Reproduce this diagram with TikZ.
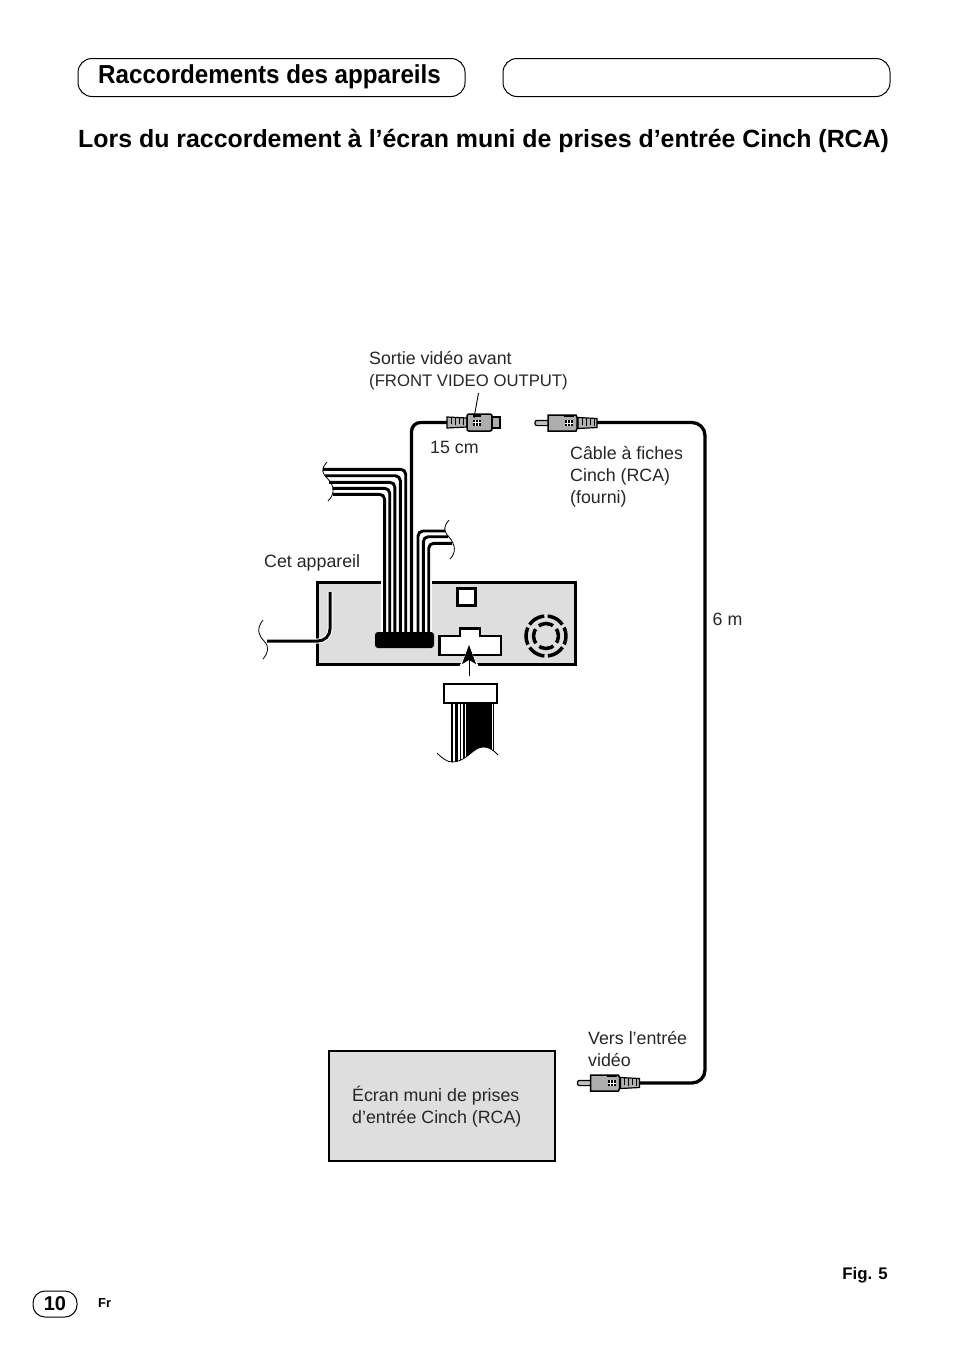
\documentclass[tikz,border=0pt]{standalone}
\usepackage{fontspec}
\setmainfont{Liberation Sans}
\newfontfamily\headfont[FakeStretch=.93]{Liberation Sans}
\usetikzlibrary{positioning,arrows.meta}
\tikzset{
  pillbox/.style={draw,line width=1pt,rounded corners=14pt,minimum height=38pt,inner sep=0pt},
  caption/.style={anchor=west,align=left,inner sep=0pt,font=\fontsize{17.8}{22}\selectfont,text=black!85},
  heading/.style={anchor=west,inner sep=0pt,font=\bfseries},
  graybox/.style={draw,line width=3pt,fill=black!13,inner sep=0pt},
  whitebox/.style={draw,line width=2.5pt,fill=white,inner sep=0pt},
  wire/.style={line width=2.9pt,rounded corners=5pt},
  cable/.style={line width=3.3pt,rounded corners=13pt},
  breakline/.style={line width=.8pt},
  pics/rcaplug/.style={code={
    \draw[line width=1.2pt,fill=black!25,rounded corners=2pt] (0,-2.6) rectangle (14,2.6);
    \draw[line width=1.5pt,fill=black!32] (13,-8) -- (41,-8) -- (42,-5.5) -- (42,5.5) -- (41,8) -- (13,8) -- cycle;
    \fill[black] (29,-8) rectangle (39,-6);
    \draw[line width=1.2pt,fill=black!30] (43,-5.5) -- (62,-4.5) -- (62,4.5) -- (43,5.5) -- cycle;
    \draw[line width=.9pt] (47,-5) -- (47,1.5) (51,-5) -- (51,2.5) (55,-5) -- (55,1.5) (59,-4.5) -- (59,2.5);
    \fill[black] (30,-3) rectangle (38,3);
    \draw[white,line width=.5pt] (32.6,-3) -- (32.6,3) (35.3,-3) -- (35.3,3) (30,0) -- (38,0);
  }},
  pics/svidplug/.style={code={
    \draw[line width=1.2pt,fill=black!30] (0,-5.5) -- (20,-4.5) -- (20,4.5) -- (0,5.5) -- cycle;
    \draw[line width=.9pt] (4,-5) -- (4,1.5) (8,-5) -- (8,2.5) (12,-5) -- (12,1.5) (16,-4.5) -- (16,2.5);
    \draw[line width=1.5pt,fill=black!32,rounded corners=2pt] (20,-8.5) rectangle (45,8.5);
    \draw[line width=1.2pt,fill=black!32] (45,-5.5) rectangle (53,5.5);
    \fill[black] (26,-3) rectangle (34,3);
    \fill[black] (26,-8.5) rectangle (34,-6);
    \draw[white,line width=.5pt] (28.6,-3) -- (28.6,3) (31.3,-3) -- (31.3,3) (26,0) -- (34,0);
  }},
}
\begin{document}
\begin{tikzpicture}[x=1pt,y=-1pt]
\useasboundingbox (0,0) rectangle (954,1355);

\node    (tabL)    at (271.5,77.5)    [pillbox,minimum width=387pt]    {};
\node    (tabR)    at (696.5,77.5)    [pillbox,minimum width=387pt]    {};
\node    (title)   at (98,77)         [heading,font=\headfont\bfseries\fontsize{26}{30}\selectfont]    {Raccordements des appareils};
\node    (sub)     at (78,140.5)      [heading,font=\bfseries\fontsize{24.9}{28}\selectfont]  {Lors du raccordement à l’écran muni de prises d’entrée Cinch (RCA)};

\node    (lblOut)  at (369,371)       [caption]    {Sortie vidéo avant\\{\fontsize{16.7}{22}\selectfont (FRONT VIDEO OUTPUT)}};
\node    (lbl15)   at (430,447.5)     [caption]    {15 cm};
\node    (lblCab)  at (570,476.5)     [caption]    {Câble à fiches\\Cinch (RCA)\\(fourni)};
\node    (lblUnit) at (264,562.5)     [caption]    {Cet appareil};
\node    (lbl6)    at (712.5,619)     [caption]    {6 m};
\node    (lblIn)   at (588,1049)      [caption]    {Vers l’entrée\\vidéo};

\node    (unit)    at (446.5,623.5)   [graybox,minimum width=258pt,minimum height=82pt]    {};
\node    (screen)  at (442,1106)      [graybox,line width=2.5pt,minimum width=226pt,minimum height=110pt]    {};
\node    (lblScr)  at (352,1107)      [caption]    {Écran muni de prises\\d’entrée Cinch (RCA)};
\node    (vent)    at (466.5,597)     [whitebox,minimum width=18pt,minimum height=17pt]    {};

\draw[line width=3.5pt,dash pattern=on 17.5pt off 3.44pt,dash phase=8.75pt] (546,636) circle (20pt);
\draw[line width=3.5pt,dash pattern=on 15pt off 4.63pt,dash phase=7.5pt] (546,636) circle (12.5pt);

\draw[whitebox] (439.5,636) -- (460,636) -- (460,628.5) -- (480,628.5) -- (480,636) -- (501,636) -- (501,655) -- (439.5,655) -- cycle;

\fill[white] (381,579) rectangle (432,634);

\coordinate (brkA1) at (322.5,469.3);
\coordinate (brkA2) at (325,475.7);
\coordinate (brkA3) at (329,482.3);
\coordinate (brkA4) at (332.5,488.3);
\coordinate (brkA5) at (333,494.3);
\draw[wire] (brkA1) -- (405.7,469.3) -- (405.7,634);
\draw[wire] (brkA2) -- (400.3,475.7) -- (400.3,634);
\draw[wire] (brkA3) -- (394.9,482.3) -- (394.9,634);
\draw[wire] (brkA4) -- (389.7,488.3) -- (389.7,634);
\draw[wire] (brkA5) -- (384.6,494.3) -- (384.6,634);

\coordinate (brkB1) at (445,531);
\coordinate (brkB2) at (448,536.7);
\coordinate (brkB3) at (452,543.3);
\draw[wire] (brkB1) -- (418,531) -- (418,634);
\draw[wire] (brkB2) -- (423.3,536.7) -- (423.3,634);
\draw[wire] (brkB3) -- (428.7,543.3) -- (428.7,634);

\node    (block)   at (404.5,640)     [fill=black,rounded corners=3pt,minimum width=59pt,minimum height=16pt,inner sep=0pt]    {};

\pic     (rcaTop)  at (535,423)       {rcaplug};
\pic     (rcaBot)  at (577.5,1083)    {rcaplug};
\pic     (svid)    at (447,422.5)     {svidplug};

\coordinate (topOut) at (597,422.5);
\coordinate (botOut) at (640,1083);
\coordinate (svidIn) at (447,422.5);
\coordinate (cabTop) at (411.5,422.5);
\draw[cable] (topOut) -- (705,422.5) -- (705,1083) -- (botOut);
\draw[wire,line width=3.3pt,rounded corners=9pt] (block.north -| cabTop) -- (cabTop) -- (svidIn);

\coordinate (leadA) at (478.5,393);
\coordinate (leadB) at (474,418);
\draw[line width=.9pt] (leadA) -- (leadB);

\coordinate (rearA) at (267,641);
\coordinate (rearB) at (330,592);
\draw[line width=3pt,rounded corners=12pt,preaction={draw=white,line width=5pt}] (rearA) -- (330,641) -- (rearB);

\draw[breakline] (327,462) .. controls (320,470) and (323,474) .. (327,478) .. controls (335,486) and (335,494) .. (328,501);
\draw[breakline] (449,520) .. controls (442,528) and (445,533) .. (449,537) .. controls (456,545) and (456,553) .. (450,559);
\draw[breakline] (263,620) .. controls (255,630) and (260,637) .. (264,641) .. controls (270,647) and (268,653) .. (263,659);

\fill[white] (469,647) -- (480,669) -- (458,669) -- cycle;
\coordinate (pinTail) at (469,676);
\coordinate (pinHead) at (469,645);
\draw[-{Stealth[length=19pt,width=14pt,inset=4pt]},line width=.9pt] (pinTail) -- (pinHead);

\begin{scope}
\clip (451,700) -- (495,700) -- (495,752) .. controls (488,746) and (482,745) .. (475,750) .. controls (468,755) and (462,762) .. (451,762) -- cycle;
\fill (451,703) rectangle (453,765);
\fill (455,703) rectangle (458,765);
\fill (459.5,703) rectangle (461,765);
\fill (463,703) rectangle (465,765);
\fill (466,703) rectangle (491.5,765);
\fill (492.5,703) rectangle (494,765);
\end{scope}
\draw[breakline] (437,753) .. controls (442,758) and (447,762) .. (452,762) .. controls (462,762) and (468,755) .. (475,750) .. controls (482,745) and (490,746) .. (498,755);
\node    (plug)    at (470.5,693.5)   [draw,line width=1.4pt,fill=white,minimum width=53pt,minimum height=19pt,inner sep=0pt]    {};

\node    (fig)     at (888,1275)      [anchor=east,inner sep=0pt,font=\bfseries\fontsize{16.8}{18}\selectfont]    {Fig. 5};
\node    (pgnum)   at (55,1304)       [draw,line width=1pt,rounded corners=12pt,minimum width=44pt,minimum height=26pt,inner sep=0pt,font=\bfseries\fontsize{20}{22}\selectfont]    {10};
\node    (lang)    at (98,1303.5)     [heading,font=\bfseries\fontsize{13}{15}\selectfont]    {Fr};
\end{tikzpicture}
\end{document}
